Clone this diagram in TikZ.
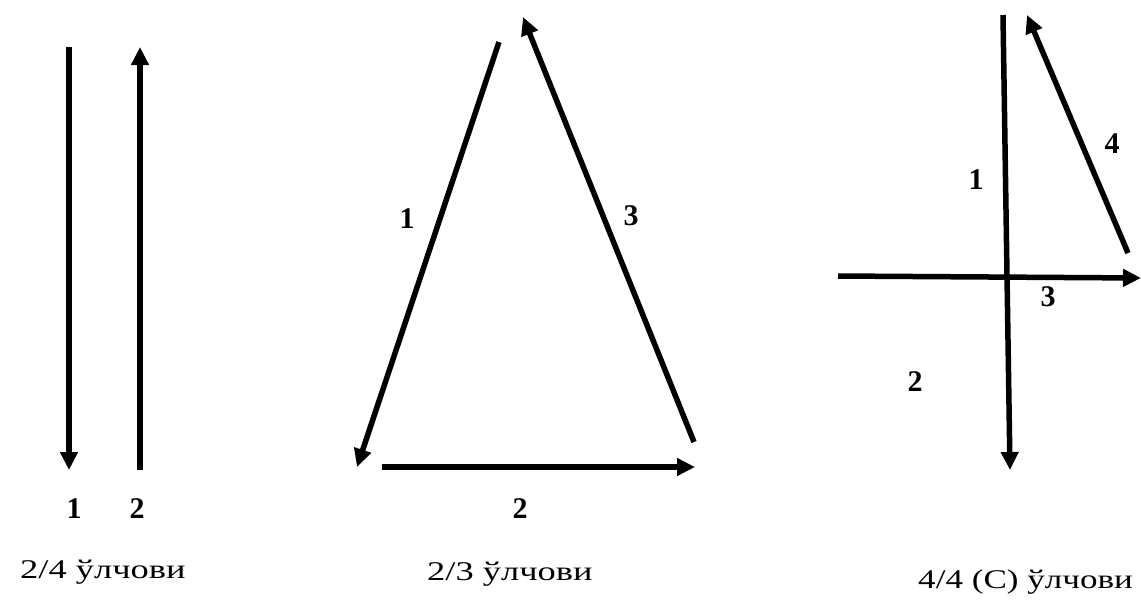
\documentclass[tikz,border=0pt]{standalone}
\usepackage{fontspec}
\setmainfont{Liberation Serif}
\usetikzlibrary{arrows.meta}
\begin{document}
\begin{tikzpicture}[x=1pt,y=-1pt,
  vec/.style={line width=5.5pt,-{Triangle[length=18pt,width=17pt]}},
  lab/.style={font=\fontsize{30}{32}\selectfont\bfseries, inner sep=0pt},
  captxt/.style={font=\fontsize{27}{30}\selectfont, inner sep=0pt, anchor=base west}]
\useasboundingbox (0,0) rectangle (1141,606);
% panel 1
\coordinate (p1a) at (69,47);
\coordinate (p1b) at (69,470);
\coordinate (p2a) at (140,470);
\coordinate (p2b) at (140,47);
\draw[vec] (p1a) -- (p1b);
\draw[vec] (p2a) -- (p2b);
\node[lab] (l11) at (74,509) {1};
\node[lab] (l12) at (137,509) {2};
\node[captxt] (c1) at (20,578) {\scalebox{1.35}[1]{2/4 ўлчови}};
% panel 2
\coordinate (t1a) at (499,42);
\coordinate (t1b) at (357,467);
\coordinate (t2a) at (382,467);
\coordinate (t2b) at (695,467);
\coordinate (t3a) at (694,442);
\coordinate (t3b) at (523,17);
\draw[vec] (t1a) -- (t1b);
\draw[vec] (t2a) -- (t2b);
\draw[vec] (t3a) -- (t3b);
\node[lab] (l21) at (407,219) {1};
\node[lab] (l23) at (631,216) {3};
\node[lab] (l22) at (520,509) {2};
\node[captxt] (c2) at (427,580) {\scalebox{1.35}[1]{2/3 ўлчови}};
% panel 3
\coordinate (s1a) at (1003,15);
\coordinate (s1b) at (1010,470);
\coordinate (s3a) at (838,276);
\coordinate (s3b) at (1141,278);
\coordinate (s4a) at (1128,253);
\coordinate (s4b) at (1027,15);
\draw[vec] (s1a) -- (s1b);
\draw[vec] (s3a) -- (s3b);
\draw[vec] (s4a) -- (s4b);
\node[lab] (l31) at (976,180) {1};
\node[lab] (l34) at (1112,144) {4};
\node[lab] (l33) at (1048,297) {3};
\node[lab] (l32) at (915,382) {2};
\node[captxt] (c3) at (918,588) {\scalebox{1.3}[1]{4/4 (C) ўлчови}};
\end{tikzpicture}
\end{document}
